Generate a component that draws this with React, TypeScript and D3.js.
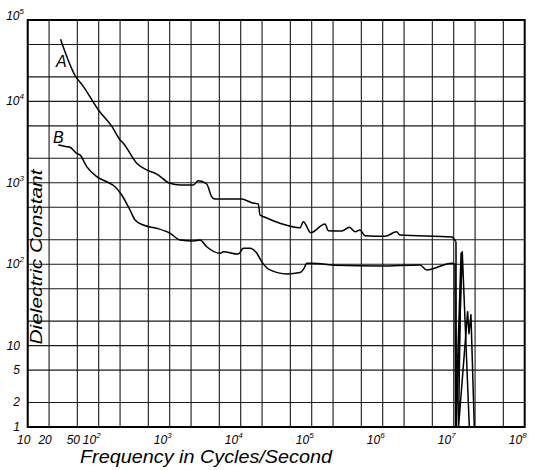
import React from 'react';
import * as d3 from 'd3';

// Curve A
const freqA = [29, 46, 61, 99, 154, 200, 222, 343, 474, 656, 1010, 1400, 2150, 2530, 3320, 3900, 4350,
  10300, 14300, 17700, 18700, 22000, 35800, 68500, 76200, 96800, 154000, 171000, 265000, 339000,
  408000, 479000, 563000, 1080000, 1570000, 1750000, 9380000, 10770000, 10900000, 13200000, 16600000];
const valueA = [57900, 21100, 15200, 7840, 4890, 3360, 3060, 1740, 1440, 1280, 986, 940, 940, 1060, 967, 675, 632,
  632, 570, 549, 402, 377, 318, 281, 333, 244, 312, 258, 256, 284,
  251, 263, 224, 220, 251, 228, 216, 189, 1, 142, 1];

// Curve B
const freqB = [27, 35.4, 39.4, 49, 54.5, 67.8, 93.7, 130, 170, 211, 276, 325, 425, 656, 1010, 1400, 2150, 2670,
  3320, 5110, 5690, 9250, 10900, 13500, 16800, 19800, 25900, 44500, 68500, 78000, 85100, 100000,
  225000, 916000, 3350000, 4170000, 9380000, 10430000, 10600000, 12700000, 11700000, 15700000,
  16400000, 17500000, 19500000];
const valueB = [2910, 2780, 2730, 2300, 2200, 1580, 1190, 1030, 896, 708, 463, 349, 303, 276, 240, 198, 193, 198,
  164, 136, 142, 133, 157, 157, 137, 107, 85, 76, 79, 89, 103, 103,
  97, 95, 98, 85, 103, 100, 1, 137, 1, 26, 14, 24, 1];

// index where the smooth trace ends and the breakdown spikes start
const splitA = 37;
const splitB = 37;

// tick labels
const xLabelValues = [10, 20, 50, 1e2, 1e3, 1e4, 1e5, 1e6, 1e7, 1e8];
const xLabelBase = ['10', '20', '50', '10', '10', '10', '10', '10', '10', '10'];
const xLabelExp = ['', '', '', '2', '3', '4', '5', '6', '7', '8'];
const yLabelValues = [1, 2, 5, 10, 1e2, 1e3, 1e4, 1e5];
const yLabelBase = ['1', '2', '5', '10', '10', '10', '10', '10'];
const yLabelExp = ['', '', '', '', '2', '3', '4', '5'];

const gridSteps = [1, 2, 5];

const font = '"Liberation Sans", Arial, sans-serif';

export default function App() {
  const width = 536;
  const height = 470;
  const left = 27.7, right = 524.7, top = 20, bottom = 427;

  const x = d3.scaleLog().domain([10, 1e8]).range([left, right]);
  const y = d3.scaleLog().domain([1, 1e5]).range([bottom, top]);

  const xGrid: number[] = [];
  for (let e = 1; e < 8; e++) gridSteps.forEach(s => xGrid.push(s * Math.pow(10, e)));
  const yGrid: number[] = [];
  for (let e = 0; e < 5; e++) gridSteps.forEach(s => yGrid.push(s * Math.pow(10, e)));

  const smooth = d3.line<[number, number]>()
    .x(d => x(d[0]))
    .y(d => y(d[1]))
    .curve(d3.curveMonotoneX);
  const straight = d3.line<[number, number]>()
    .x(d => x(d[0]))
    .y(d => y(d[1]));

  const ptsA = freqA.map((f, i) => [f, valueA[i]] as [number, number]);
  const ptsB = freqB.map((f, i) => [f, valueB[i]] as [number, number]);

  const curves = [
    smooth(ptsA.slice(0, splitA + 1)),
    straight(ptsA.slice(splitA)),
    smooth(ptsB.slice(0, splitB + 1)),
    straight(ptsB.slice(splitB)),
  ];

  return (
    <svg width={width} height={height} style={{ position: 'absolute', left: 0, top: 0, background: '#fff' }}
      fontFamily={font}>
      <rect x={0} y={0} width={width} height={height} fill="#fff" />

      {/* grid */}
      {xGrid.map((v, i) => (
        <line key={'gx' + i} x1={x(v)} x2={x(v)} y1={top} y2={bottom} stroke="#1a1a1a" strokeWidth={1.1} />
      ))}
      {yGrid.map((v, i) => (
        <line key={'gy' + i} x1={left} x2={right} y1={y(v)} y2={y(v)} stroke="#1a1a1a" strokeWidth={1.1} />
      ))}
      <rect x={left} y={top} width={right - left} height={bottom - top} fill="none" stroke="#000" strokeWidth={2} />

      {/* curves */}
      {curves.map((d, i) => (
        <path key={'c' + i} d={d || ''} fill="none" stroke="#000" strokeWidth={1.5} strokeLinejoin="round" />
      ))}

      <text x={56} y={67} fontSize={16} fontStyle="italic">A</text>
      <text x={53} y={143} fontSize={16} fontStyle="italic">B</text>

      {/* x tick labels */}
      {xLabelValues.map((v, i) => (
        <text key={'xl' + i} x={x(v) - (xLabelExp[i] ? 7 : 4)} y={444} fontSize={12} fontStyle="italic" textAnchor="middle">
          {xLabelBase[i]}
          {xLabelExp[i] && <tspan fontSize={8} dy={-6}>{xLabelExp[i]}</tspan>}
        </text>
      ))}

      {/* y tick labels */}
      {yLabelValues.map((v, i) => (
        <text key={'yl' + i} x={yLabelExp[i] ? 24 : 20} y={y(v) + (i === 7 ? 0 : 4)} fontSize={12} fontStyle="italic" textAnchor="end">
          {yLabelBase[i]}
          {yLabelExp[i] && <tspan fontSize={8} dy={-6}>{yLabelExp[i]}</tspan>}
        </text>
      ))}

      {/* axis titles */}
      <text x={80} y={463} fontSize={19} fontStyle="italic" textLength={252} lengthAdjust="spacingAndGlyphs">
        Frequency in Cycles/Second
      </text>
      <text transform="translate(42,257) rotate(-90)" fontSize={17} fontStyle="italic" textAnchor="middle"
        textLength={175} lengthAdjust="spacingAndGlyphs">
        Dielectric Constant
      </text>
    </svg>
  );
}
